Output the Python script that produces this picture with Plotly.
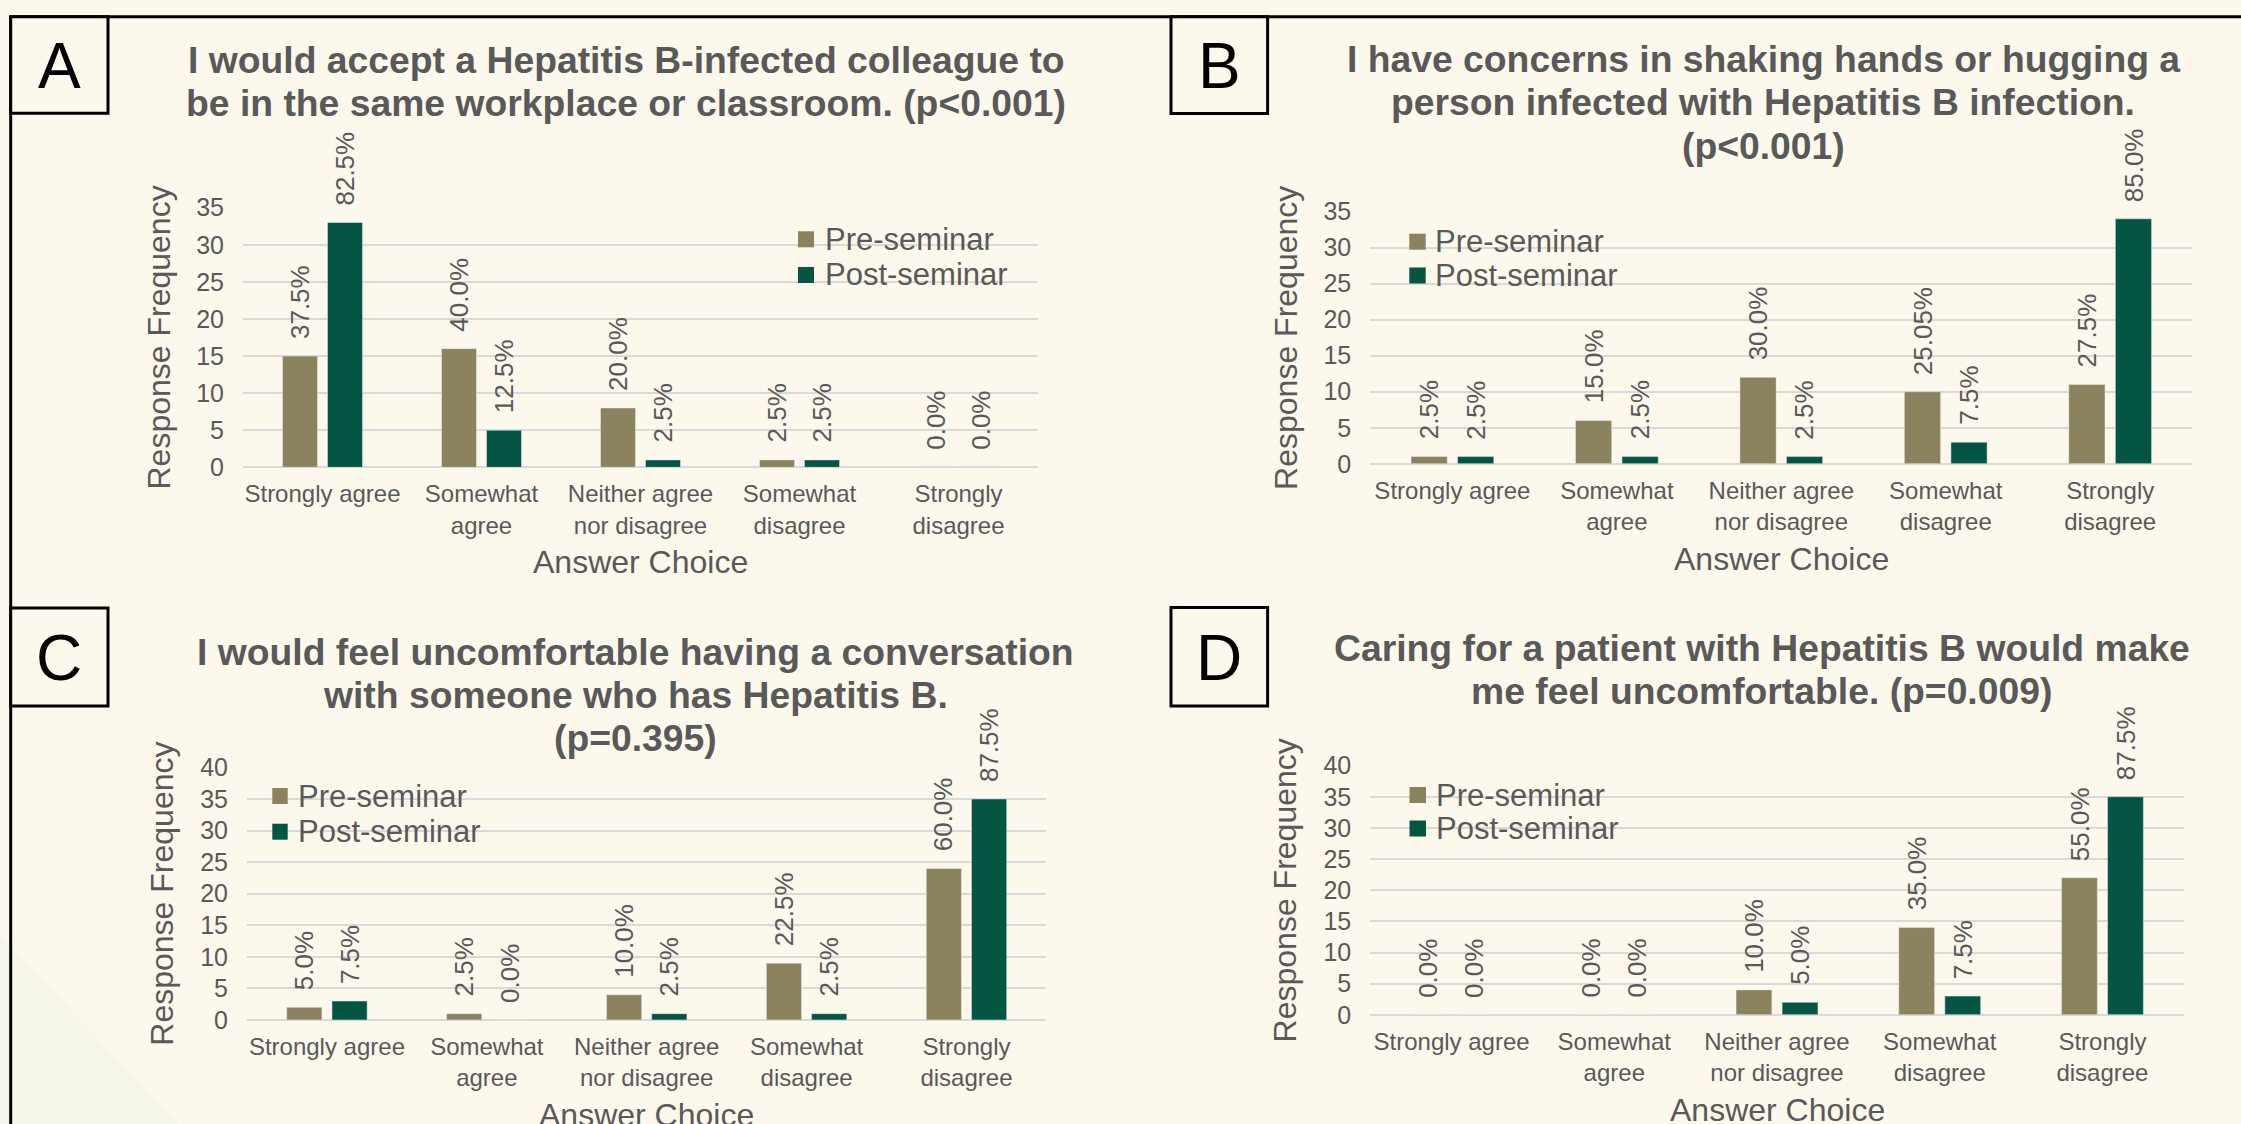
import plotly.graph_objects as go

W, H = 2241, 1124

# ---------------- data ----------------
tick_labels = ["Strongly agree", "Somewhat<br>agree", "Neither agree<br>nor disagree",
               "Somewhat<br>disagree", "Strongly<br>disagree"]
series_names = ["Pre-seminar", "Post-seminar"]

a_pre = [15, 16, 8, 1, 0]
a_post = [33, 5, 1, 1, 0]
a_pre_pct = ["37.5%", "40.0%", "20.0%", "2.5%", "0.0%"]
a_post_pct = ["82.5%", "12.5%", "2.5%", "2.5%", "0.0%"]
a_title = ["I would accept a Hepatitis B-infected colleague to",
           "be in the same workplace or classroom. (p&lt;0.001)"]

b_pre = [1, 6, 12, 10, 11]
b_post = [1, 1, 1, 3, 34]
b_pre_pct = ["2.5%", "15.0%", "30.0%", "25.05%", "27.5%"]
b_post_pct = ["2.5%", "2.5%", "2.5%", "7.5%", "85.0%"]
b_title = ["I have concerns in shaking hands or hugging a",
           "person infected with Hepatitis B infection.",
           "(p&lt;0.001)"]

c_pre = [2, 1, 4, 9, 24]
c_post = [3, 0, 1, 1, 35]
c_pre_pct = ["5.0%", "2.5%", "10.0%", "22.5%", "60.0%"]
c_post_pct = ["7.5%", "0.0%", "2.5%", "2.5%", "87.5%"]
c_title = ["I would feel uncomfortable having a conversation",
           "with someone who has Hepatitis B.",
           "(p=0.395)"]

d_pre = [0, 0, 4, 14, 22]
d_post = [0, 0, 2, 3, 35]
d_pre_pct = ["0.0%", "0.0%", "10.0%", "35.0%", "55.0%"]
d_post_pct = ["0.0%", "0.0%", "5.0%", "7.5%", "87.5%"]
d_title = ["Caring for a patient with Hepatitis B would make",
           "me feel uncomfortable. (p=0.009)"]

y_title = "Response Frequency"
x_title = "Answer Choice"

# ---------------- style ----------------
PRE = "#8B825E"
POST = "#045642"
BG = "#FDF8EC"
GRID = "#D9D9D9"
TXT = "#595959"
FONT = "Liberation Sans, Arial, sans-serif"


def px(x):
    return x / W


def py(y):
    return 1 - y / H


# geometry in pixels (layout only)
panels = [
    dict(letter="A", pre=a_pre, post=a_post, pre_lbl=a_pre_pct, post_lbl=a_post_pct, title=a_title,
         ymax=35, plot=(243, 1038, 207.7, 467.3), title_x=626, title_y=[60.1, 103.4],
         leg=(798, 814, 823, [239.3, 275.0]), box=(10.7, 108, 16.7, 113.3)),
    dict(letter="B", pre=b_pre, post=b_post, pre_lbl=b_pre_pct, post_lbl=b_post_pct, title=b_title,
         ymax=35, plot=(1370.2, 2192.4, 211.6, 463.8), title_x=1763, title_y=[59.0, 102.3, 145.5],
         leg=(1409.3, 1425.7, 1433.3, [241.7, 275.5]), box=(1171, 1267.6, 16.7, 113.5)),
    dict(letter="C", pre=c_pre, post=c_post, pre_lbl=c_pre_pct, post_lbl=c_post_pct, title=c_title,
         ymax=40, plot=(247, 1046.4, 767.4, 1020), title_x=635.7, title_y=[651.7, 695.0, 738.4],
         leg=(272.3, 287.7, 296, [796.0, 831.7]), box=(10.7, 108, 608, 706)),
    dict(letter="D", pre=d_pre, post=d_post, pre_lbl=d_pre_pct, post_lbl=d_post_pct, title=d_title,
         ymax=40, plot=(1370.2, 2183.8, 765.6, 1014.8), title_x=1761.7, title_y=[647.6, 690.9],
         leg=(1409.5, 1426, 1434, [795.0, 828.5]), box=(1171, 1267.6, 607.5, 706)),
]

fig = go.Figure()
annotations = []
shapes = []

# light background wedge lower-left
shapes.append(dict(type="path", xref="paper", yref="paper", layer="below",
                   path=f"M0,{py(935)} L{px(178)},0 L0,0 Z",
                   fillcolor="#F6F5EA", line=dict(width=0)))
# frame lines
shapes.append(dict(type="line", xref="paper", yref="paper", x0=px(9.3), x1=1, y0=py(16.7), y1=py(16.7),
                   line=dict(color="black", width=3)))
shapes.append(dict(type="line", xref="paper", yref="paper", x0=px(10.7), x1=px(10.7), y0=py(16.7), y1=0,
                   line=dict(color="black", width=3)))

cat_pos = list(range(len(tick_labels)))
half = 0.1415

for i, p in enumerate(panels, start=1):
    xn = "x" if i == 1 else f"x{i}"
    yn = "y" if i == 1 else f"y{i}"
    xl, xr, yt, yb = p["plot"]
    fig.add_trace(go.Bar(x=cat_pos, y=p["pre"], name=series_names[0], marker_color=PRE,
                         xaxis=xn, yaxis=yn, showlegend=False))
    fig.add_trace(go.Bar(x=cat_pos, y=p["post"], name=series_names[1], marker_color=POST,
                         xaxis=xn, yaxis=yn, showlegend=False))
    sfx = "" if i == 1 else str(i)
    fig.update_layout(**{
        f"xaxis{sfx}": dict(domain=[px(xl), px(xr)], anchor=yn, range=[-0.5, 4.5], automargin=False,
                            tickmode="array", tickvals=cat_pos, ticktext=tick_labels,
                            showgrid=False, zeroline=False, showline=False, ticks="",
                            tickfont=dict(size=24, color=TXT, family=FONT), ticklabelstandoff=10),
        f"yaxis{sfx}": dict(domain=[py(yb), py(yt)], anchor=xn, range=[0, p["ymax"]], automargin=False,
                            tick0=0, dtick=5, showgrid=True, gridcolor=GRID, gridwidth=2,
                            zeroline=True, zerolinecolor=GRID, zerolinewidth=2, showline=False,
                            ticks="", tickfont=dict(size=25, color=TXT, family=FONT),
                            ticklabelstandoff=18),
    })
    # data labels
    for j in cat_pos:
        for val, lbl, dx in ((p["pre"][j], p["pre_lbl"][j], -half), (p["post"][j], p["post_lbl"][j], half)):
            annotations.append(dict(x=j + dx, y=val, xref=xn, yref=yn, text=lbl, textangle=-90,
                                    xanchor="center", yanchor="bottom", yshift=15, showarrow=False,
                                    font=dict(size=26, color=TXT, family=FONT)))
    # titles
    for line, ty in zip(p["title"], p["title_y"]):
        annotations.append(dict(x=px(p["title_x"]), y=py(ty), xref="paper", yref="paper", text=f"<b>{line}</b>",
                                xanchor="center", yanchor="middle", showarrow=False,
                                font=dict(size=37.3, color=TXT, family=FONT)))
    # axis titles
    annotations.append(dict(x=px(xl - 85), y=py((yt + yb) / 2), xref="paper", yref="paper", text=y_title,
                            textangle=-90, xanchor="center", yanchor="middle", showarrow=False,
                            font=dict(size=32, color=TXT, family=FONT)))
    annotations.append(dict(x=px((xl + xr) / 2), y=py(yb + 95), xref="paper", yref="paper", text=x_title,
                            xanchor="center", yanchor="middle", showarrow=False,
                            font=dict(size=32, color=TXT, family=FONT)))
    # legend (manual)
    mx0, mx1, tx, rows = p["leg"]
    for name, col, cy in zip(series_names, (PRE, POST), rows):
        shapes.append(dict(type="rect", xref="paper", yref="paper", x0=px(mx0), x1=px(mx1),
                           y0=py(cy + 8), y1=py(cy - 8), fillcolor=col, line=dict(width=0)))
        annotations.append(dict(x=px(tx), y=py(cy), xref="paper", yref="paper", text=name,
                                xanchor="left", yanchor="middle", showarrow=False,
                                font=dict(size=31, color=TXT, family=FONT)))
    # panel letter box
    bx0, bx1, by0, by1 = p["box"]
    shapes.append(dict(type="rect", xref="paper", yref="paper", x0=px(bx0), x1=px(bx1),
                       y0=py(by1), y1=py(by0), line=dict(color="black", width=3), fillcolor=BG))
    annotations.append(dict(x=px((bx0 + bx1) / 2), y=py((by0 + by1) / 2 + 1), xref="paper", yref="paper",
                            text=p["letter"], xanchor="center", yanchor="middle", showarrow=False,
                            font=dict(size=64, color="black", family=FONT)))

fig.update_layout(
    width=W, height=H, autosize=False,
    margin=dict(l=0, r=0, t=0, b=0, pad=0, autoexpand=False),
    paper_bgcolor=BG, plot_bgcolor="rgba(0,0,0,0)",
    barmode="group", bargap=0.434, bargroupgap=0.222,
    showlegend=False,
    annotations=annotations, shapes=shapes,
    font=dict(family=FONT, color=TXT),
)

fig.write_html("out.html")
